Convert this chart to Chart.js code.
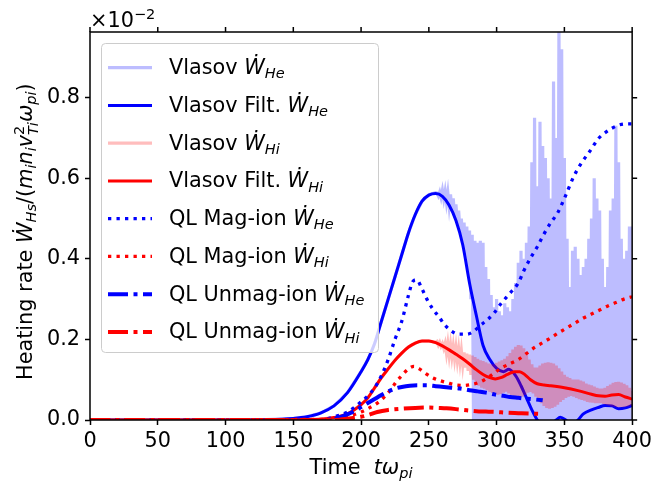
<!DOCTYPE html>
<html><head><meta charset="utf-8">
<script src="https://cdn.jsdelivr.net/npm/chart.js@4/dist/chart.umd.min.js"></script>
<style>html,body{margin:0;padding:0;background:#fff;overflow:hidden}canvas{display:block}</style>
</head><body>
<canvas id="c" width="656" height="481"></canvas>
<script>
// ---------- data (values in units of 1e-2) ----------
const xTicks = [0, 50, 100, 150, 200, 250, 300, 350, 400];
const yTicks = [0.0, 0.2, 0.4, 0.6, 0.8];

// Vlasov filtered W_He
const filtHeT = [0,100,130,150,160,170,180,190,200,205,210,215,220,225,230,235,240,245,250,255,260,265,270,275,280,285,290,295,300,305,309,314,318,322,326,330,335,340,344,347,351,355,360,364,370,375,380,385,390,395,400];
const filtHe  = [0,0,0.001,0.004,0.008,0.017,0.035,0.068,0.12,0.15,0.19,0.245,0.3,0.355,0.41,0.465,0.51,0.543,0.558,0.562,0.555,0.533,0.495,0.435,0.34,0.26,0.185,0.15,0.128,0.12,0.126,0.11,0.085,0.055,0.025,0.0,-0.02,-0.012,0.0,0.007,0.0,-0.012,0.0,0.015,0.025,0.031,0.036,0.035,0.028,0.03,0.036];

// Vlasov filtered W_Hi
const filtHiT = [0,150,170,180,190,200,205,210,215,220,225,230,235,240,245,250,255,260,265,270,275,280,285,290,295,299,303,308,313,317,321,325,330,335,340,350,360,370,375,380,385,390,395,400];
const filtHi  = [0,0,0.002,0.006,0.015,0.038,0.055,0.08,0.105,0.127,0.148,0.166,0.181,0.191,0.196,0.196,0.192,0.184,0.174,0.163,0.152,0.139,0.125,0.113,0.105,0.102,0.105,0.113,0.12,0.12,0.112,0.1,0.09,0.087,0.085,0.08,0.073,0.064,0.06,0.059,0.062,0.063,0.057,0.052];

// Vlasov raw W_He: smooth early part + oscillating part sampled every 1 from t=256
const rawHeEarlyT = [0,100,130,150,160,170,180,190,200,205,210,215,220,225,230,235,240,245,250,255];
const rawHeEarly  = [0,0,0.001,0.004,0.008,0.017,0.035,0.068,0.12,0.15,0.19,0.245,0.3,0.355,0.41,0.465,0.51,0.543,0.559,0.564];
const rawOscStart = 256;
const rawHeOsc = [
0.563,0.556,0.566,0.552,0.57,0.548,0.568,0.54,0.565,0.53,
0.56,0.52,0.55,0.505,0.535,0.49,0.52,0.47,0.50,0.44,
0.49,0.41,0.48,0.37,0.47,0.30,0.46,-0.03,0.445,-0.04,
0.44,-0.05,0.445,-0.03,0.44,-0.04,0.38,-0.05,0.35,-0.03,
0.31,-0.04,0.28,-0.05,0.30,-0.03,0.27,-0.04,0.26,-0.05,
0.29,-0.03,0.28,-0.04,0.27,-0.05,0.30,-0.03,0.34,-0.04,
0.39,-0.05,0.42,-0.03,0.40,-0.04,0.44,-0.05,0.48,-0.03,
0.64,-0.04,0.75,-0.05,0.58,-0.03,0.74,-0.04,0.68,-0.05,
0.65,-0.03,0.60,-0.04,0.55,-0.05,0.84,-0.03,0.70,-0.04,
1.0,-0.05,0.92,-0.03,0.65,-0.04,0.45,-0.05,0.33,-0.03,
0.42,-0.04,0.43,-0.05,0.40,-0.03,0.36,-0.04,0.38,-0.05,
0.40,-0.03,0.45,-0.04,0.50,-0.05,0.60,-0.03,0.55,-0.04,
0.52,-0.05,0.40,-0.03,0.33,-0.04,0.38,-0.05,0.52,-0.03,
0.55,-0.04,0.73,-0.05,0.64,-0.03,0.45,-0.04,0.40,-0.05,
0.42,-0.03,0.48,-0.04,0.48];

// Vlasov raw W_Hi
const rawHiEarlyT = [0,150,170,180,190,200,205,210,215,220,225,230,235,240,245,250,255];
const rawHiEarly  = [0,0,0.002,0.006,0.015,0.038,0.055,0.08,0.105,0.127,0.148,0.166,0.181,0.191,0.196,0.196,0.193];
const rawHiOsc = [
0.195,0.186,0.193,0.183,0.19,0.178,0.19,0.165,0.19,0.16,
0.187,0.157,0.183,0.152,0.18,0.148,0.176,0.143,0.172,0.137,
0.168,0.13,0.165,0.122,0.162,0.112,0.16,0.1,0.156,0.093,
0.152,0.085,0.148,0.08,0.146,0.078,0.143,0.074,0.14,0.07,
0.138,0.067,0.138,0.064,0.142,0.063,0.145,0.065,0.148,0.068,
0.152,0.07,0.158,0.066,0.166,0.062,0.175,0.058,0.182,0.056,
0.186,0.055,0.185,0.058,0.178,0.062,0.165,0.068,0.15,0.07,
0.138,0.066,0.13,0.058,0.13,0.05,0.135,0.042,0.14,0.035,
0.142,0.03,0.143,0.028,0.142,0.03,0.14,0.033,0.135,0.038,
0.128,0.045,0.12,0.05,0.112,0.055,0.107,0.058,0.104,0.06,
0.1,0.058,0.1,0.055,0.1,0.052,0.098,0.05,0.095,0.048,
0.09,0.045,0.088,0.044,0.086,0.043,0.083,0.042,0.08,0.042,
0.078,0.042,0.078,0.04,0.08,0.038,0.084,0.036,0.088,0.034,
0.092,0.033,0.094,0.032,0.095,0.032,0.093,0.032,0.09,0.033,
0.086,0.034,0.08,0.036,0.072];

// QL Mag-ion
const qlMagHeT = [0,170,180,190,200,205,210,215,220,225,230,235,238,241,245,249,253,257,262,267,272,278,283,288,293,298,303,310,316,320,325,330,335,340,345,350,357,363,369,375,380,385,390,395,400];
const qlMagHe  = [0,0,0.008,0.02,0.045,0.06,0.08,0.11,0.15,0.2,0.245,0.31,0.343,0.348,0.325,0.297,0.275,0.258,0.235,0.22,0.213,0.213,0.22,0.235,0.248,0.265,0.288,0.315,0.34,0.37,0.402,0.43,0.462,0.49,0.514,0.55,0.605,0.64,0.668,0.698,0.713,0.724,0.732,0.735,0.735];
const qlMagHiT = [0,180,190,200,205,212,217,222,226,230,235,239,243,247,252,258,264,270,276,281,286,291,297,303,310,316,322,328,334,340,346,352,358,364,370,376,382,389,394,400];
const qlMagHi  = [0,0.002,0.008,0.02,0.028,0.042,0.057,0.076,0.095,0.11,0.127,0.133,0.127,0.117,0.106,0.098,0.092,0.087,0.086,0.088,0.092,0.1,0.113,0.128,0.14,0.15,0.165,0.18,0.192,0.204,0.217,0.229,0.241,0.253,0.263,0.273,0.283,0.293,0.3,0.306];

// QL Unmag-ion
const qlUnHeT = [0,175,180,185,190,195,200,205,210,215,220,225,230,236,242,249,255,261,267,273,280,286,292,299,305,310,316,322,328,334];
const qlUnHe  = [0,0,0.003,0.008,0.014,0.022,0.032,0.042,0.052,0.062,0.071,0.078,0.082,0.085,0.086,0.086,0.084,0.082,0.08,0.078,0.074,0.071,0.068,0.063,0.06,0.057,0.055,0.053,0.051,0.049];
const qlUnHiT = [0,180,190,200,205,212,220,230,240,250,256,263,270,278,285,292,299,308,316,324,333];
const qlUnHi  = [0,0,0.003,0.008,0.012,0.02,0.025,0.028,0.03,0.031,0.03,0.029,0.027,0.024,0.022,0.021,0.02,0.018,0.017,0.016,0.015];

// ---------- helpers ----------
const FS = 20.8;
const FAM = "'DejaVu Sans'";
function pts(ts, ys){ return ts.map((t,i)=>({x:t, y:ys[i]})); }
function osc(t0, ys){ return ys.map((y,i)=>({x:t0+i, y:y})); }

const BLUE='#0000ff', RED='#ff0000';
const LBLUE='rgba(0,0,255,0.26)', LRED='rgba(255,0,0,0.26)';
const DOT=[3.3,5.2], DASHDOT=[20,5.5,4,5.5];

const styles = {
  rawHe:{c:LBLUE,w:3.2,d:[]}, filtHe:{c:BLUE,w:3,d:[]},
  rawHi:{c:LRED,w:3.2,d:[]},  filtHi:{c:RED,w:3,d:[]},
  magHe:{c:BLUE,w:3.3,d:DOT}, magHi:{c:RED,w:3.3,d:DOT},
  unHe:{c:BLUE,w:4,d:DASHDOT}, unHi:{c:RED,w:4,d:DASHDOT}
};

function ds(data, st, order, smooth){
  return {data, borderColor:st.c, borderWidth:st.w, borderDash:st.d, borderCapStyle:'butt',
    pointRadius:0, fill:false, order, tension:0,
    cubicInterpolationMode: smooth ? 'monotone' : 'default'};
}

const datasets = [
  ds(pts(rawHeEarlyT, rawHeEarly).concat(osc(rawOscStart, rawHeOsc)), styles.rawHe, 8, false),
  ds(pts(filtHeT, filtHe), styles.filtHe, 7, true),
  ds(pts(rawHiEarlyT, rawHiEarly).concat(osc(rawOscStart, rawHiOsc)), styles.rawHi, 6, false),
  ds(pts(filtHiT, filtHi), styles.filtHi, 5, true),
  ds(pts(qlMagHeT, qlMagHe), styles.magHe, 4, true),
  ds(pts(qlMagHiT, qlMagHi), styles.magHi, 3, true),
  ds(pts(qlUnHeT, qlUnHe), styles.unHe, 2, true),
  ds(pts(qlUnHiT, qlUnHi), styles.unHi, 1, true)
];

// rich text drawing (mathtext-like)
function fontFor(p){ return (p.it?'italic ':'') + ((p.sub||p.sup)? FS*0.7 : FS) + 'px ' + FAM; }
function richWidth(ctx, pieces){
  let w=0; pieces.forEach(p=>{ ctx.font=fontFor(p); if(!p.stack) w+=ctx.measureText(p.t).width; }); return w;
}
function drawRich(ctx, pieces, x, y){
  let cx=x;
  pieces.forEach(p=>{
    ctx.font=fontFor(p);
    const dy = p.sub ? (p.deep?5.5:4.2) : (p.sup ? -8 : 0);
    ctx.fillText(p.t, cx, y+dy);
    if(!p.stack) cx += ctx.measureText(p.t).width;
  });
}
const W = (sub)=>[{t:'\u1E86',it:1},{t:sub,it:1,sub:1}];
const legendRows = [
  {st:styles.rawHe,  txt:[{t:'Vlasov '}].concat(W('He'))},
  {st:styles.filtHe, txt:[{t:'Vlasov Filt. '}].concat(W('He'))},
  {st:styles.rawHi,  txt:[{t:'Vlasov '}].concat(W('Hi'))},
  {st:styles.filtHi, txt:[{t:'Vlasov Filt. '}].concat(W('Hi'))},
  {st:styles.magHe,  txt:[{t:'QL Mag-ion '}].concat(W('He'))},
  {st:styles.magHi,  txt:[{t:'QL Mag-ion '}].concat(W('Hi'))},
  {st:styles.unHe,   txt:[{t:'QL Unmag-ion '}].concat(W('He'))},
  {st:styles.unHi,   txt:[{t:'QL Unmag-ion '}].concat(W('Hi'))}
];
const yLabel = [{t:'Heating rate '},{t:'\u1E86',it:1},{t:'Hs',it:1,sub:1},{t:'/('},{t:'m',it:1},{t:'i',it:1,sub:1},
  {t:'n',it:1},{t:'i',it:1,sub:1},{t:'v',it:1},{t:'2',sup:1,stack:1},{t:'Ti',it:1,sub:1,deep:1},{t:'\u03C9',it:1},{t:'pi',it:1,sub:1},{t:')'}];
const xLabel = [{t:'Time  '},{t:'t',it:1},{t:'\u03C9',it:1},{t:'pi',it:1,sub:1}];

const deco = {
  id:'deco',
  afterDraw(chart){
    const ctx=chart.ctx, ca=chart.chartArea, xs=chart.scales.x, ys=chart.scales.y;
    ctx.save();
    // spines
    ctx.strokeStyle='#000'; ctx.lineWidth=1.5; ctx.setLineDash([]);
    ctx.strokeRect(ca.left, ca.top, ca.right-ca.left, ca.bottom-ca.top);
    // top and right tick marks
    ctx.beginPath();
    xs.ticks.forEach(tk=>{ const px=xs.getPixelForValue(tk.value); ctx.moveTo(px, ca.top); ctx.lineTo(px, ca.top-5); });
    ys.ticks.forEach(tk=>{ const py=ys.getPixelForValue(tk.value); ctx.moveTo(ca.right, py); ctx.lineTo(ca.right+5, py); });
    ctx.stroke();

    // legend
    const lx=101, ly=43, lw=277, lh=309, r=4;
    ctx.beginPath();
    ctx.roundRect(lx+0.5, ly+0.5, lw, lh, r);
    ctx.fillStyle='rgba(255,255,255,0.8)'; ctx.fill();
    ctx.strokeStyle='#cccccc'; ctx.lineWidth=1; ctx.stroke();
    legendRows.forEach((row,i)=>{
      const cy = 67.7 + i*37.75;
      ctx.beginPath();
      ctx.strokeStyle=row.st.c; ctx.lineWidth=row.st.w; ctx.setLineDash(row.st.d); ctx.lineCap='butt';
      ctx.moveTo(108, cy); ctx.lineTo(152, cy); ctx.stroke();
      ctx.setLineDash([]);
      ctx.fillStyle='#000'; ctx.textBaseline='alphabetic'; ctx.textAlign='left';
      drawRich(ctx, row.txt, 169, cy+6.5);
    });

    // offset text
    ctx.fillStyle='#000';
    drawRich(ctx, [{t:'\u00D710'},{t:'\u22122',sup:1}], 90, 27);

    // x label
    const xw = richWidth(ctx, xLabel);
    drawRich(ctx, xLabel, (ca.left+ca.right)/2 - xw/2, 474);

    // y label
    ctx.save();
    ctx.translate(32, 380);
    ctx.rotate(-Math.PI/2);
    drawRich(ctx, yLabel, 0, 0);
    ctx.restore();

    ctx.restore();
  }
};

new Chart(document.getElementById('c'), {
  type:'line',
  data:{datasets},
  options:{
    responsive:false, animation:false, devicePixelRatio:1,
    layout:{padding:{top:32, right:19, left:0, bottom:0}},
    plugins:{legend:{display:false}, tooltip:{enabled:false}},
    scales:{
      x:{type:'linear', min:0, max:400,
         afterBuildTicks:(s)=>{ s.ticks = xTicks.map(v=>({value:v})); },
         afterFit:(s)=>{ s.height=61; },
         ticks:{color:'#000', padding:4, maxRotation:0, autoSkip:false, font:{family:'DejaVu Sans', size:FS}, callback:(v)=>String(v)},
         grid:{display:true, drawOnChartArea:false, drawTicks:true, tickLength:5, tickWidth:1.5, tickColor:'#000'},
         border:{display:false}},
      y:{type:'linear', min:0, max:0.963,
         afterBuildTicks:(s)=>{ s.ticks = yTicks.map(v=>({value:v})); },
         afterFit:(s)=>{ s.width=90; },
         ticks:{color:'#000', padding:5, font:{family:'DejaVu Sans', size:FS}, callback:(v)=>v.toFixed(1)},
         grid:{display:true, drawOnChartArea:false, drawTicks:true, tickLength:5, tickWidth:1.5, tickColor:'#000'},
         border:{display:false}}
    }
  },
  plugins:[deco]
});
</script>
</body></html>
